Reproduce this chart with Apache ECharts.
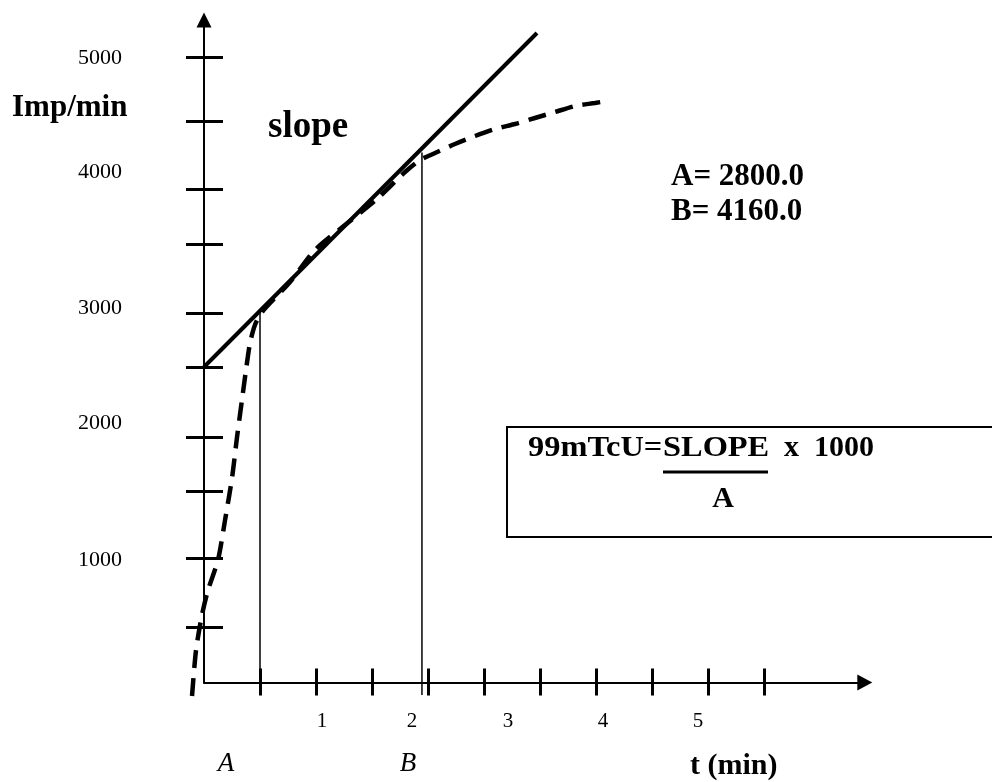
<!DOCTYPE html>
<html>
<head>
<meta charset="utf-8">
<script src="https://cdn.jsdelivr.net/npm/echarts@6/dist/echarts.min.js"></script>
<style>
html,body{margin:0;padding:0;background:#fff;}
#chart{width:992px;height:782px;}
</style>
</head>
<body>
<div id="chart"></div>
<script>
// ---- data ----
const xTickValues = [0.5, 1, 1.5, 2, 2.5, 3, 3.5, 4, 4.5, 5];
const xLabelValues = [1.054, 1.857, 2.714, 3.563, 4.411];
const xTickLabels = ['1', '2', '3', '4', '5'];

const yTickValues = [444, 996, 1532, 1964, 2524, 2956, 3508, 3948, 4492, 5004];
const yLabelValues = [980, 2076, 2996, 4080, 4996];
const yTickLabels = ['1000', '2000', '3000', '4000', '5000'];

// tangent (slope) line
const slopeT = [0, 2.973];
const slopeImp = [2524, 5196];

// measured curve (dashed)
const curveT = [-0.107, -0.071, -0.018, 0.036, 0.125, 0.188, 0.25, 0.295, 0.339, 0.375, 0.411, 0.455, 0.518,
  0.768, 0.991, 1.259, 1.554, 1.795, 1.929, 2.063, 2.241, 2.42, 2.598, 2.777, 2.955, 3.134, 3.313, 3.491, 3.598];
const curveImp = [-108, 260, 540, 740, 980, 1300, 1636, 1964, 2260, 2500, 2716, 2860, 2964,
  3204, 3460, 3660, 3876, 4084, 4180, 4236, 4308, 4372, 4428, 4468, 4516, 4564, 4612, 4636, 4652];

// vertical markers A and B
const markerNames = ['A', 'B'];
const markerT = [0.5, 1.946];
const markerTop = [2976, 4240];
const markerBottom = [0, -100];

// result values
const resultNames = ['A', 'B'];
const resultValues = [2800.0, 4160.0];

const xMin = 0, xMax = 5.9, yMin = 0, yMax = 5300;
// wider range (same scale) so the curve can run past the axes
const xMinWide = -0.25, yMinWide = -250;

// ---- chart ----
const FONT = 'Liberation Serif';
const PX_PER_T = 112, PX_PER_IMP = 0.125;
const originX = 204, originY = 682.5;
const chart = echarts.init(document.getElementById('chart'), null, {renderer: 'canvas'});

function pairs(xs, ys) { return xs.map((x, i) => [x, ys[i]]); }

const gridRight = 992 - (originX + xMax * PX_PER_T);
const gridTop = originY - yMax * PX_PER_IMP;
const gridBottom = 782 - originY;

const markerSeries = markerT.map((t, i) => ({
  type: 'line',
  name: 'marker ' + markerNames[i],
  xAxisIndex: 2, yAxisIndex: 2,
  data: [[t, markerBottom[i]], [t, markerTop[i]]],
  symbol: 'none',
  lineStyle: {color: '#000', width: 1.5},
  z: 2
}));

const hiddenAxis = {show: false, axisLine: {show: false}, axisTick: {show: false}, axisLabel: {show: false}, splitLine: {show: false}};

const option = {
  animation: false,
  backgroundColor: '#fff',
  grid: [
    {left: originX, right: gridRight, top: gridTop, bottom: gridBottom, containLabel: false},
    {left: originX + xMinWide * PX_PER_T, right: gridRight, top: gridTop,
     bottom: gridBottom + yMinWide * PX_PER_IMP, containLabel: false}
  ],
  xAxis: [
    {
      type: 'value', gridIndex: 0, min: xMin, max: xMax, position: 'bottom',
      axisLine: {show: true, onZero: false, lineStyle: {color: '#000', width: 2},
        symbol: ['none', 'triangle'], symbolSize: [16, 15]},
      axisTick: {show: true, length: 13, inside: false, customValues: xTickValues,
        lineStyle: {color: '#000', width: 3}},
      axisLabel: {show: true, customValues: xLabelValues, margin: 28,
        fontFamily: FONT, fontSize: 21, color: '#000',
        formatter: v => xTickLabels[xLabelValues.indexOf(v)] ?? ''},
      splitLine: {show: false}
    },
    {
      type: 'value', gridIndex: 0, min: xMin, max: xMax, position: 'bottom',
      axisLine: {show: false, onZero: false},
      axisTick: {show: true, length: 14, inside: true, customValues: xTickValues,
        lineStyle: {color: '#000', width: 3}},
      axisLabel: {show: false},
      splitLine: {show: false}
    },
    Object.assign({type: 'value', gridIndex: 1, min: xMinWide, max: xMax}, hiddenAxis)
  ],
  yAxis: [
    {
      type: 'value', gridIndex: 0, min: yMin, max: yMax, position: 'left',
      axisLine: {show: true, onZero: false, lineStyle: {color: '#000', width: 2},
        symbol: ['none', 'triangle'], symbolSize: [15, 15]},
      axisTick: {show: true, length: 18, inside: false, customValues: yTickValues,
        lineStyle: {color: '#000', width: 3}},
      axisLabel: {show: true, customValues: yLabelValues, margin: 82,
        fontFamily: FONT, fontSize: 22, color: '#000',
        formatter: v => yTickLabels[yLabelValues.indexOf(v)] ?? ''},
      splitLine: {show: false}
    },
    {
      type: 'value', gridIndex: 0, min: yMin, max: yMax, position: 'left',
      axisLine: {show: false, onZero: false},
      axisTick: {show: true, length: 19, inside: true, customValues: yTickValues,
        lineStyle: {color: '#000', width: 3}},
      axisLabel: {show: false},
      splitLine: {show: false}
    },
    Object.assign({type: 'value', gridIndex: 1, min: yMinWide, max: yMax}, hiddenAxis)
  ],
  series: [
    {
      type: 'line', name: 'curve',
      xAxisIndex: 2, yAxisIndex: 2,
      data: pairs(curveT, curveImp),
      symbol: 'none', smooth: 0.25, clip: false,
      lineStyle: {color: '#000', width: 4.5, type: [18, 10], cap: 'butt'},
      z: 3
    },
    {
      type: 'line', name: 'slope',
      xAxisIndex: 0, yAxisIndex: 0,
      data: pairs(slopeT, slopeImp),
      symbol: 'none', clip: false,
      lineStyle: {color: '#000', width: 4},
      z: 4
    },
    ...markerSeries
  ],
  graphic: [
    {type: 'text', left: 12, top: 92, style: {text: 'Imp/min', font: 'bold 31px ' + FONT, fill: '#000'}},
    {type: 'text', left: 268, top: 109, style: {text: 'slope', font: 'bold 37px ' + FONT, fill: '#000'}},
    {type: 'text', left: 671, top: 161, style: {text: resultNames[0] + '= ' + resultValues[0].toFixed(1), font: 'bold 31px ' + FONT, fill: '#000'}},
    {type: 'text', left: 671, top: 196, style: {text: resultNames[1] + '= ' + resultValues[1].toFixed(1), font: 'bold 31px ' + FONT, fill: '#000'}},
    {type: 'rect', shape: {x: 507, y: 427, width: 520, height: 110}, style: {fill: 'none', stroke: '#000', lineWidth: 2}},
    {type: 'text', x: 528, y: 448, scaleX: 1.08, style: {text: '99mTcU=', font: 'bold 30px ' + FONT, fill: '#000', verticalAlign: 'middle'}},
    {type: 'text', x: 663, y: 448, scaleX: 1.08, style: {text: 'SLOPE', font: 'bold 30px ' + FONT, fill: '#000', verticalAlign: 'middle'}},
    {type: 'line', shape: {x1: 663, y1: 472, x2: 768, y2: 472}, style: {stroke: '#000', lineWidth: 3}},
    {type: 'text', x: 784, y: 448, style: {text: 'x  1000', font: 'bold 30px ' + FONT, fill: '#000', verticalAlign: 'middle'}},
    {type: 'text', x: 723, y: 499, style: {text: 'A', font: 'bold 30px ' + FONT, fill: '#000', align: 'center', verticalAlign: 'middle'}},
    {type: 'text', x: 226, y: 764, style: {text: markerNames[0], font: 'italic 27px ' + FONT, fill: '#000', align: 'center', verticalAlign: 'middle'}},
    {type: 'text', x: 408, y: 764, style: {text: markerNames[1], font: 'italic 27px ' + FONT, fill: '#000', align: 'center', verticalAlign: 'middle'}},
    {type: 'text', x: 690, y: 766, style: {text: 't (min)', font: 'bold 30px ' + FONT, fill: '#000', verticalAlign: 'middle'}}
  ]
};
chart.setOption(option);
</script>
</body>
</html>
